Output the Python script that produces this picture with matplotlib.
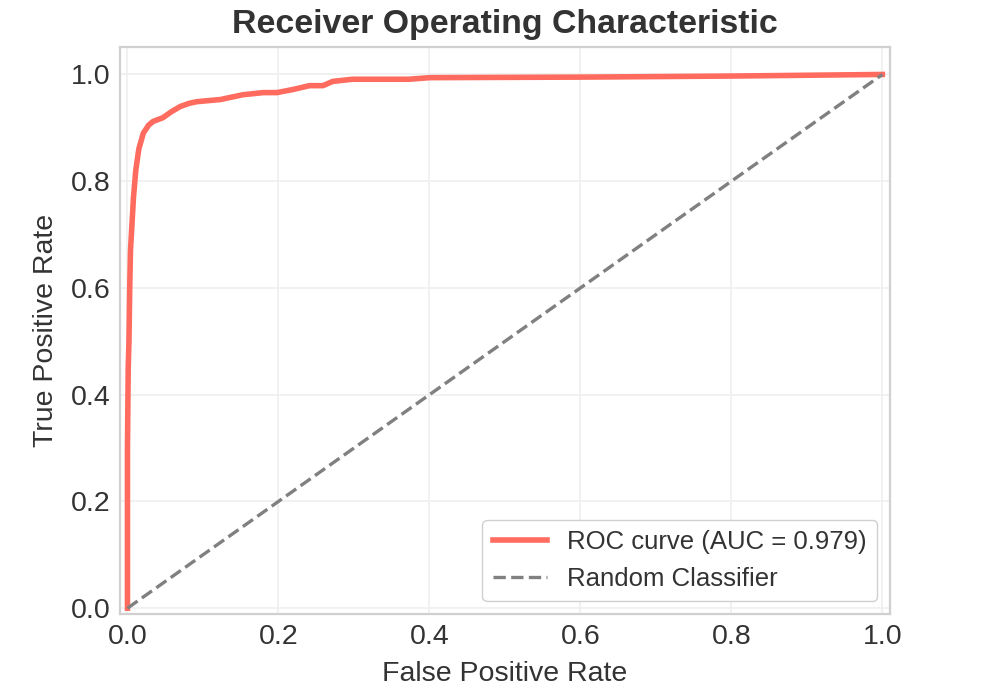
import matplotlib
matplotlib.use('Agg')
import matplotlib.pyplot as plt

# ROC curve points
fpr = [0.0, 0.0, 0.001, 0.002, 0.003, 0.004, 0.006, 0.008, 0.011, 0.015, 0.021,
       0.028, 0.034, 0.047, 0.058, 0.070, 0.082, 0.092, 0.123, 0.153, 0.180,
       0.198, 0.220, 0.241, 0.259, 0.272, 0.298, 0.373, 0.400, 0.600, 0.800, 1.0]
tpr = [0.0, 0.30, 0.45, 0.50, 0.60, 0.67, 0.72, 0.77, 0.82, 0.86, 0.89,
       0.905, 0.912, 0.919, 0.930, 0.940, 0.946, 0.949, 0.953, 0.962, 0.966,
       0.966, 0.972, 0.979, 0.979, 0.987, 0.991, 0.991, 0.994, 0.995, 0.997, 1.0]
auc_value = 0.979
diag = [0.0, 1.0]

plt.rcParams['font.family'] = ['Liberation Sans', 'DejaVu Sans']
text_col = '#333333'

fig = plt.figure(figsize=(9.91, 6.97), dpi=100)
ax = fig.add_axes([0.121, 0.119, 0.777, 0.814])

ax.plot(fpr, tpr, color='#ff6b5e', lw=4, label=f'ROC curve (AUC = {auc_value})')
ax.plot(diag, diag, color='#808080', lw=2.4, ls='--', label='Random Classifier')

ax.set_xlim(-0.01, 1.01)
ax.set_ylim(-0.011, 1.052)
ax.set_xticks([0, 0.2, 0.4, 0.6, 0.8, 1.0])
ax.set_yticks([0, 0.2, 0.4, 0.6, 0.8, 1.0])
ax.grid(True, color='#efefef', lw=1.2)
ax.set_axisbelow(True)
for s in ax.spines.values():
    s.set_color('#d0d0d0')
    s.set_linewidth(1.6)
ax.tick_params(length=0, labelsize=20.5, colors=text_col, pad=7)

ax.set_xlabel('False Positive Rate', fontsize=20.5, color=text_col, labelpad=8)
ax.set_ylabel('True Positive Rate', fontsize=20.5, color=text_col, labelpad=8)
ax.set_title('Receiver Operating Characteristic', fontsize=24.4, fontweight='bold',
             color=text_col, pad=10)

leg = ax.legend(loc='lower right', fontsize=18.5, frameon=True, framealpha=1,
                edgecolor='#d0d0d0', handlelength=2.1, borderpad=0.4)
for t in leg.get_texts():
    t.set_color(text_col)

fig.savefig('out.png', dpi=100)
